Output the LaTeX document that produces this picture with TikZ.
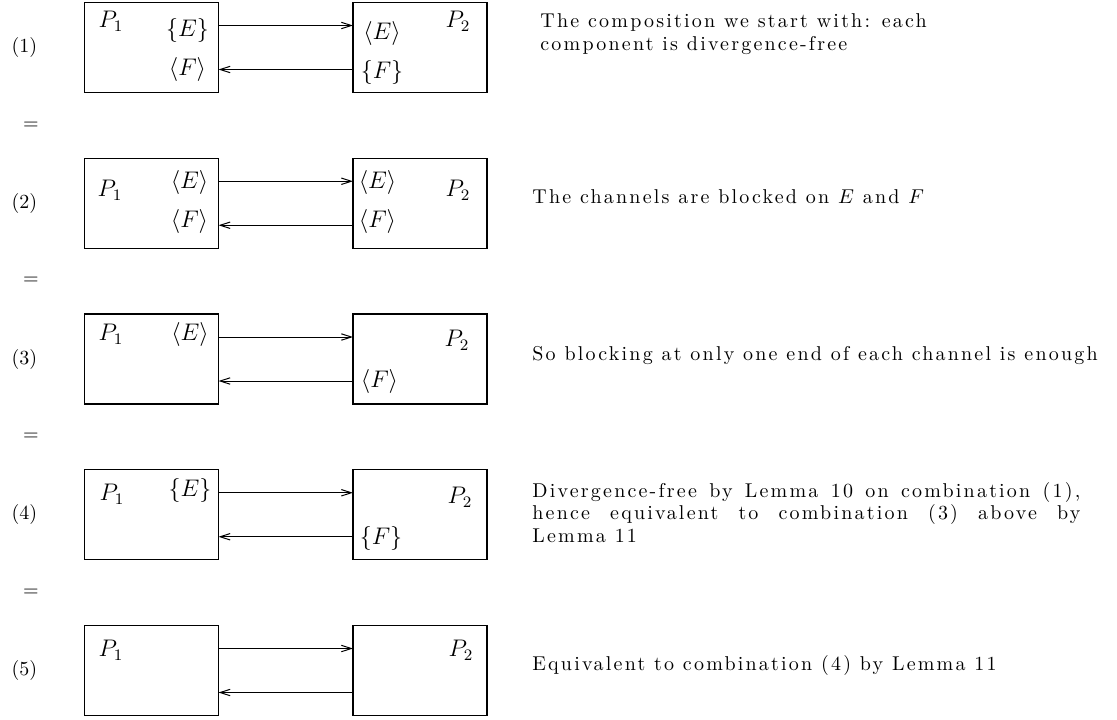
\documentclass[tikz,border=0pt]{standalone}
\usepackage{fontspec}
\setmainfont{Latin Modern Roman}[LetterSpace=11]
\usetikzlibrary{arrows.meta}
\begin{document}
\begin{tikzpicture}[x=0.5pt,y=-0.5pt,
  font=\fontsize{10}{12}\selectfont,
  box/.style={draw, line width=0.6pt, minimum width=67pt, minimum height=45pt, inner sep=0pt, outer sep=0pt},
  lab/.style={inner sep=0pt, font=\fontsize{12}{14}\selectfont},
  num/.style={inner sep=0pt},
  arr/.style={line width=0.5pt, -{Straight Barb[length=5pt,width=3.2pt]}},
  txt/.style={anchor=base west, inner sep=0pt}]
\useasboundingbox (0,0) rectangle (1117,719);

% ---------- row 1
\node[box] (L1) at (151.5,47.5) {};
\node[box] (R1) at (420,47.5) {};
\draw[arr] ([yshift=11pt]L1.east) -- ([yshift=11pt]R1.west);
\draw[arr] ([yshift=-11pt]R1.west) -- ([yshift=-11pt]L1.east);
\node[lab] (p1a) at (111,21) {$P_1$};
\node[lab] (e1a) at (187.5,30) {$\{E\}$};
\node[lab] (f1a) at (187.5,69.5) {$\langle F\rangle$};
\node[lab] (e1b) at (382,33) {$\langle E\rangle$};
\node[lab] (f1b) at (382,72) {$\{F\}$};
\node[lab] (p2a) at (458,21) {$P_2$};
\node[num] (n1) at (24.5,47.5) {$(1)$};
\node[txt] (t1a) at (540,27) {The composition we start with: each};
\node[txt] (t1b) at (540,50) {component is divergence-free};
\node[num] (q1) at (31,125.5) {$=$};

% ---------- row 2
\node[box] (L2) at (151.5,203.25) {};
\node[box] (R2) at (420,203.25) {};
\draw[arr] ([yshift=11pt]L2.east) -- ([yshift=11pt]R2.west);
\draw[arr] ([yshift=-11pt]R2.west) -- ([yshift=-11pt]L2.east);
\node[lab] (p1b) at (110,190) {$P_1$};
\node[lab] (e2a) at (189.5,182) {$\langle E\rangle$};
\node[lab] (f2a) at (189.5,221.5) {$\langle F\rangle$};
\node[lab] (e2b) at (377.5,182) {$\langle E\rangle$};
\node[lab] (f2b) at (377.5,221.5) {$\langle F\rangle$};
\node[lab] (p2b) at (458,190) {$P_2$};
\node[num] (n2) at (24.5,203.25) {$(2)$};
\node[txt] (t2) at (532,203) {The channels are blocked on $E$ and $F$};
\node[num] (q2) at (31,281) {$=$};

% ---------- row 3
\node[box] (L3) at (151.5,359) {};
\node[box] (R3) at (420,359) {};
\draw[arr] ([yshift=11pt]L3.east) -- ([yshift=11pt]R3.west);
\draw[arr] ([yshift=-11pt]R3.west) -- ([yshift=-11pt]L3.east);
\node[lab] (p1c) at (111,334) {$P_1$};
\node[lab] (e3a) at (190,334) {$\langle E\rangle$};
\node[lab] (f3b) at (379.5,381) {$\langle F\rangle$};
\node[lab] (p2c) at (457,340) {$P_2$};
\node[num] (n3) at (24.5,359) {$(3)$};
\node[txt] (t3) at (532,360) {So blocking at only one end of each channel is enough};
\node[num] (q3) at (31,437) {$=$};

% ---------- row 4
\node[box] (L4) at (151.5,514.75) {};
\node[box] (R4) at (420,514.75) {};
\draw[arr] ([yshift=11pt]L4.east) -- ([yshift=11pt]R4.west);
\draw[arr] ([yshift=-11pt]R4.west) -- ([yshift=-11pt]L4.east);
\node[lab] (p1d) at (112,494) {$P_1$};
\node[lab] (e4a) at (190,490) {$\{E\}$};
\node[lab] (f4b) at (381,538) {$\{F\}$};
\node[lab] (p2d) at (460,497) {$P_2$};
\node[num] (n4) at (24.5,514.75) {$(4)$};
\node[txt] (t4a) at (532,497) {\makebox[274pt][s]{Divergence-free by Lemma 10 on combination (1),}};
\node[txt] (t4b) at (532,519.5) {\makebox[274pt][s]{hence equivalent to combination (3) above by}};
\node[txt] (t4c) at (532,542) {Lemma 11};
\node[num] (q4) at (31,592.5) {$=$};

% ---------- row 5
\node[box] (L5) at (151.5,670.5) {};
\node[box] (R5) at (420,670.5) {};
\draw[arr] ([yshift=11pt]L5.east) -- ([yshift=11pt]R5.west);
\draw[arr] ([yshift=-11pt]R5.west) -- ([yshift=-11pt]L5.east);
\node[lab] (p1e) at (111,650) {$P_1$};
\node[lab] (p2e) at (461,650) {$P_2$};
\node[num] (n5) at (24.5,670.5) {$(5)$};
\node[txt] (t5) at (532,670) {Equivalent to combination (4) by Lemma 11};
\end{tikzpicture}
\end{document}
